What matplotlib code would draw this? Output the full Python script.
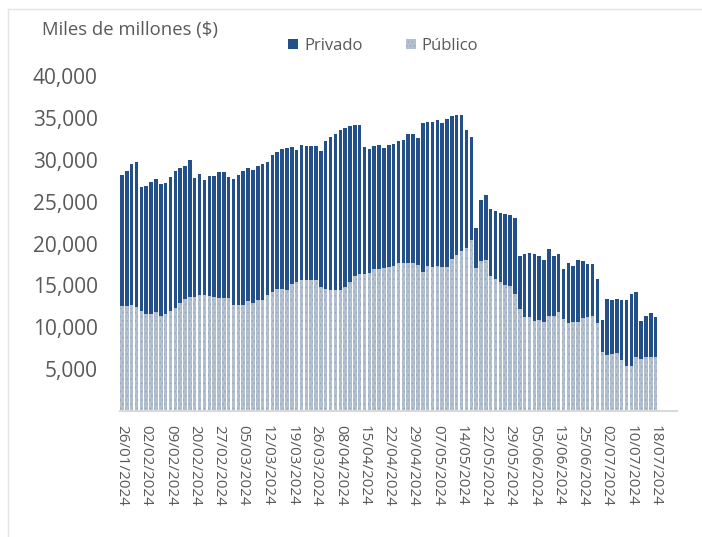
import matplotlib
matplotlib.use("Agg")

import matplotlib.pyplot as plt
import numpy as np
from matplotlib.patches import Patch
from matplotlib.lines import Line2D

plt.rcParams["font.family"] = ["Open Sans", "DejaVu Sans"]
plt.rcParams["hatch.linewidth"] = 0.6

# ── datos (miles de millones $) ──────────────────────────────
publico = [
    12500, 12500, 12600, 12400, 11900, 11600, 11600, 11800, 11400, 11600,
    11900, 12300, 12900, 13400, 13600, 13600, 13900, 13800, 13700, 13600,
    13500, 13500, 13500, 12700, 12700, 12700, 13100, 12900, 13200, 13300,
    13800, 14200, 14600, 14600, 14500, 15200, 15400, 15700, 15700, 15700,
    15700, 14800, 14600, 14400, 14400, 14500, 14800, 15400, 16100, 16300,
    16300, 16500, 17000, 17000, 17100, 17200, 17300, 17700, 17700, 17700,
    17700, 17400, 16600, 17300, 17200, 17300, 17200, 17200, 18100, 18600,
    19100, 19500, 20400, 17100, 17900, 18000, 16100, 15800, 15400, 15100,
    14900, 14000, 12200, 11200, 11200, 10800, 10900, 10600, 11400, 11400,
    11800, 11000, 10500, 10600, 10600, 11100, 11200, 11400, 10500, 7100,
    6700, 6800, 6900, 6100, 5400, 5400, 6400, 6200, 6500, 6400,
    6400,
]
privado = [
    15700, 16200, 16900, 17300, 14900, 15300, 15800, 15900, 15700, 15600,
    16100, 16400, 16100, 15900, 16400, 14200, 14400, 13800, 14400, 14500,
    15000, 15000, 14400, 15000, 15500, 16000, 15900, 15900, 16000, 16200,
    15900, 16400, 16300, 16700, 16900, 16300, 15800, 16100, 16000, 15900,
    16000, 16200, 17600, 18300, 18700, 19000, 19000, 18600, 18000, 17800,
    15200, 14800, 14600, 14800, 14300, 14600, 14600, 14500, 14700, 15400,
    15400, 15200, 17800, 17200, 17300, 17500, 17200, 17700, 17100, 16700,
    16200, 14100, 12300, 4700, 7300, 7800, 8000, 8100, 8300, 8400,
    8500, 9100, 6300, 7600, 7700, 7900, 7600, 7400, 7900, 7100,
    7000, 5900, 7200, 6700, 7400, 6800, 6300, 6100, 5300, 3800,
    6700, 6500, 6500, 7200, 7900, 8600, 7800, 4500, 4800, 5300,
    4800,
]
fechas = [
    "26/01/2024", "02/02/2024", "09/02/2024", "20/02/2024", "27/02/2024",
    "05/03/2024", "12/03/2024", "19/03/2024", "26/03/2024", "08/04/2024",
    "15/04/2024", "22/04/2024", "29/04/2024", "07/05/2024", "14/05/2024",
    "22/05/2024", "29/05/2024", "05/06/2024", "13/06/2024", "25/06/2024",
    "02/07/2024", "10/07/2024", "18/07/2024",
]
PASO_ETIQUETA = 5  # una fecha cada 5 barras
y_ticks = [5000, 10000, 15000, 20000, 25000, 30000, 35000, 40000]

C_PRIV = "#24508A"
C_PUB = "#B3C0CF"
C_TXT = "#595959"

x = np.arange(len(publico))

fig = plt.figure(figsize=(7.02, 5.37), dpi=100)
ax = fig.add_axes([120 / 702, 1 - 411 / 537, 557 / 702, 335 / 537])

ax.bar(x, publico, width=0.72, color=C_PUB, edgecolor="#97A8BA", hatch="....", linewidth=0)
ax.bar(x, privado, bottom=publico, width=0.72, color=C_PRIV, linewidth=0)

ax.set_xlim(-0.4, 114.4)
ax.set_ylim(0, 40000)
ax.set_yticks(y_ticks)
ax.set_yticklabels([f"{v:,}" for v in y_ticks], fontsize=15, color=C_TXT)
ax.set_xticks(x[::PASO_ETIQUETA])
ax.set_xticklabels(fechas, rotation=-90, fontsize=11, color=C_TXT, va="top", ha="center")
ax.tick_params(axis="y", length=0, pad=16)
ax.tick_params(axis="x", length=0, pad=10)

for s in ["top", "right", "left"]:
    ax.spines[s].set_visible(False)
ax.spines["bottom"].set_color("#D9D9D9")
ax.spines["bottom"].set_linewidth(1.5)

fig.text(42 / 702, 1 - 30 / 537, "Miles de millones ($)", fontsize=13.3, color=C_TXT,
         ha="left", va="center")

handles = [Patch(facecolor=C_PRIV, linewidth=0),
           Patch(facecolor=C_PUB, edgecolor="#97A8BA", hatch="....", linewidth=0)]
fig.legend(handles, ["Privado", "Público"], loc="center", bbox_to_anchor=(383 / 702, 1 - 46 / 537),
           ncol=2, frameon=False, fontsize=12, handlelength=0.6, handleheight=0.6,
           handletextpad=0.35, columnspacing=2.6, labelcolor=C_TXT)

# marco gris claro del gráfico
fig.add_artist(Line2D([8 / 702, 8 / 702], [0, 1 - 9 / 537], transform=fig.transFigure,
                      color="#E3E3E3", linewidth=1))
fig.add_artist(Line2D([8 / 702, 1], [1 - 9 / 537, 1 - 9 / 537], transform=fig.transFigure,
                      color="#E3E3E3", linewidth=1))

plt.savefig("out.png", dpi=100)
plt.close()
